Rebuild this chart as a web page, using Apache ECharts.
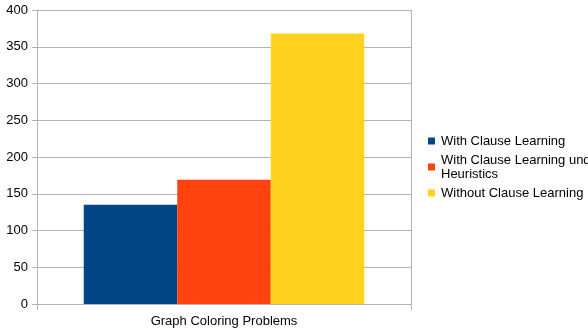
<!DOCTYPE html>
<html>
<head>
<meta charset="utf-8">
<script src="https://cdn.jsdelivr.net/npm/echarts@6/dist/echarts.min.js"></script>
<style>
html, body { margin: 0; padding: 0; background: #fff; }
#chart { width: 588px; height: 332px; }
</style>
</head>
<body>
<div id="chart"></div>
<script>
var categories = ['Graph Coloring Problems'];
var seriesNames = ['With Clause Learning', 'With Clause Learning und\nHeuristics', 'Without Clause Learning'];
var seriesColors = ['#004586', '#ff420e', '#ffd320'];
var withLearning = [135];
var withLearningHeur = [169];
var withoutLearning = [368];
var seriesValues = [withLearning, withLearningHeur, withoutLearning];

var lineColor = '#b3b3b3';
var chart = echarts.init(document.getElementById('chart'));

var series = [];
for (var i = 0; i < seriesNames.length; i++) {
    series.push({
        name: seriesNames[i],
        type: 'bar',
        data: seriesValues[i],
        itemStyle: { color: seriesColors[i] },
        barGap: '0%',
        barCategoryGap: '25%'
    });
}

var option = {
    animation: false,
    textStyle: { fontFamily: 'Liberation Sans' },
    grid: { left: 37, right: 177, top: 10, bottom: 28 },
    legend: {
        orient: 'vertical',
        left: 423,
        top: 129,
        itemWidth: 7,
        itemHeight: 7,
        itemGap: 5,
        icon: 'rect',
        textStyle: { fontSize: 13, color: '#000', lineHeight: 14, fontFamily: 'Liberation Sans', padding: [0, 0, 0, 1] },
        data: seriesNames
    },
    xAxis: {
        type: 'category',
        data: categories,
        axisLine: { lineStyle: { color: lineColor } },
        axisTick: { show: true, length: 6, lineStyle: { color: lineColor } },
        splitLine: { show: true, lineStyle: { color: lineColor } },
        axisLabel: { color: '#000', fontSize: 13, margin: 11 }
    },
    yAxis: {
        type: 'value',
        min: 0,
        max: 400,
        interval: 50,
        axisLine: { show: true, lineStyle: { color: lineColor } },
        axisTick: { show: true, length: 5, lineStyle: { color: lineColor } },
        splitLine: { show: true, lineStyle: { color: lineColor } },
        axisLabel: { color: '#000', fontSize: 13, margin: 9 }
    },
    series: series
};
chart.setOption(option);
</script>
</body>
</html>
